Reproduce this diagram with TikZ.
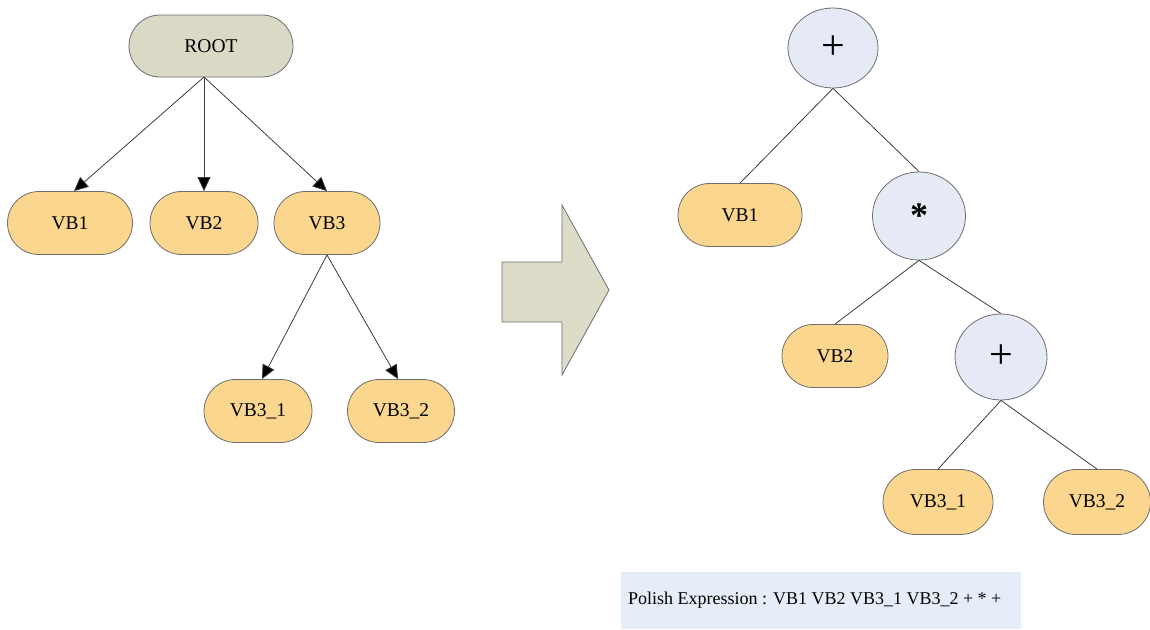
\documentclass[tikz,border=0pt]{standalone}
\usepackage{fontspec}
\setmainfont{Liberation Serif}
\usetikzlibrary{shapes.misc,shapes.geometric,arrows.meta}

\definecolor{leaf}{HTML}{FAD68F}
\definecolor{rootfill}{HTML}{DAD9C5}
\definecolor{opfill}{HTML}{E6EAF7}
\definecolor{arrowfill}{HTML}{DCDCC8}
\definecolor{notefill}{HTML}{E5EDF8}
\definecolor{outline}{HTML}{6E6E6E}
\definecolor{wire}{HTML}{3C3C3C}

\tikzset{
  pill/.style={rounded rectangle, draw=outline, line width=0.8pt, fill=leaf,
    minimum height=63pt, inner sep=0pt, font=\fontsize{19.5}{21}\selectfont},
  rootpill/.style={pill, fill=rootfill, minimum height=62pt},
  opnode/.style={ellipse, draw=outline, line width=0.8pt, fill=opfill,
    inner sep=0pt},
  tree/.style={draw=wire, line width=0.8pt},
  treearrow/.style={tree, -{Triangle[length=14pt,width=13pt,fill=black]}},
}

\begin{document}
\begin{tikzpicture}[x=1pt,y=-1pt]
  \useasboundingbox (0,0) rectangle (1150,629);

  % ---- left: node tree ----
  \node[rootpill, minimum width=164pt] (root) at (211,46) {ROOT};
  \node[pill, minimum width=125pt] (a1) at (70,223) {VB1};
  \node[pill, minimum width=108pt] (a2) at (204,223) {VB2};
  \node[pill, minimum width=106pt] (a3) at (327,223) {VB3};
  \node[pill, minimum width=108pt] (a31) at (258,411) {VB3\_1};
  \node[pill, minimum width=107pt] (a32) at (401,411) {VB3\_2};

  \coordinate (rs) at (204,77);
  \coordinate (vs) at (327,255);
  \draw[treearrow] (rs) -- ([xshift=4pt]a1.north);
  \draw[treearrow] (rs) -- (a2.north);
  \draw[treearrow] (rs) -- (a3.north);
  \draw[treearrow] (vs) -- ([xshift=4pt]a31.north);
  \draw[treearrow] (vs) -- ([xshift=-3pt]a32.north);

  % ---- block arrow ----
  \draw[draw=outline, line width=0.8pt, fill=arrowfill]
    (502,262) -- (562,262) -- (562,205) -- (609,290) -- (562,375)
    -- (562,322) -- (502,322) -- cycle;

  % ---- right: expression tree ----
  \node[opnode, minimum width=90pt, minimum height=80pt] (p1) at (833,48)
    {\fontsize{42}{42}\selectfont +};
  \node[pill, minimum width=124pt] (b1) at (740,215) {VB1};
  \node[opnode, minimum width=93pt, minimum height=88pt] (m) at (919,216)
    {\raisebox{-6pt}{\fontsize{36}{36}\selectfont\bfseries *}};
  \node[pill, minimum width=106pt] (b2) at (835,356) {VB2};
  \node[opnode, minimum width=92pt, minimum height=86pt] (p2) at (1001,357)
    {\fontsize{42}{42}\selectfont +};
  \node[pill, minimum width=110pt, minimum height=65pt] (b31) at (938,502) {VB3\_1};
  \node[pill, minimum width=107pt, minimum height=65pt] (b32) at (1097,502) {VB3\_2};

  \draw[tree] (p1.south) -- (b1.north);
  \draw[tree] (p1.south) -- (m.north);
  \draw[tree] (m.south) -- (b2.north);
  \draw[tree] (m.south) -- (p2.north);
  \draw[tree] (p2.south) -- (b31.north);
  \draw[tree] (p2.south) -- (b32.north);

  % ---- result ----
  \node[fill=notefill, minimum width=400pt, minimum height=57pt, inner sep=0pt]
    (exprbox) at (821,600) {};
  \node[anchor=west, inner sep=0pt, font=\fontsize{18}{21}\selectfont]
    (expr) at ([xshift=7pt]exprbox.west)
    {Polish Expression : VB1 VB2 VB3\_1 VB3\_2 + * +};
\end{tikzpicture}
\end{document}
